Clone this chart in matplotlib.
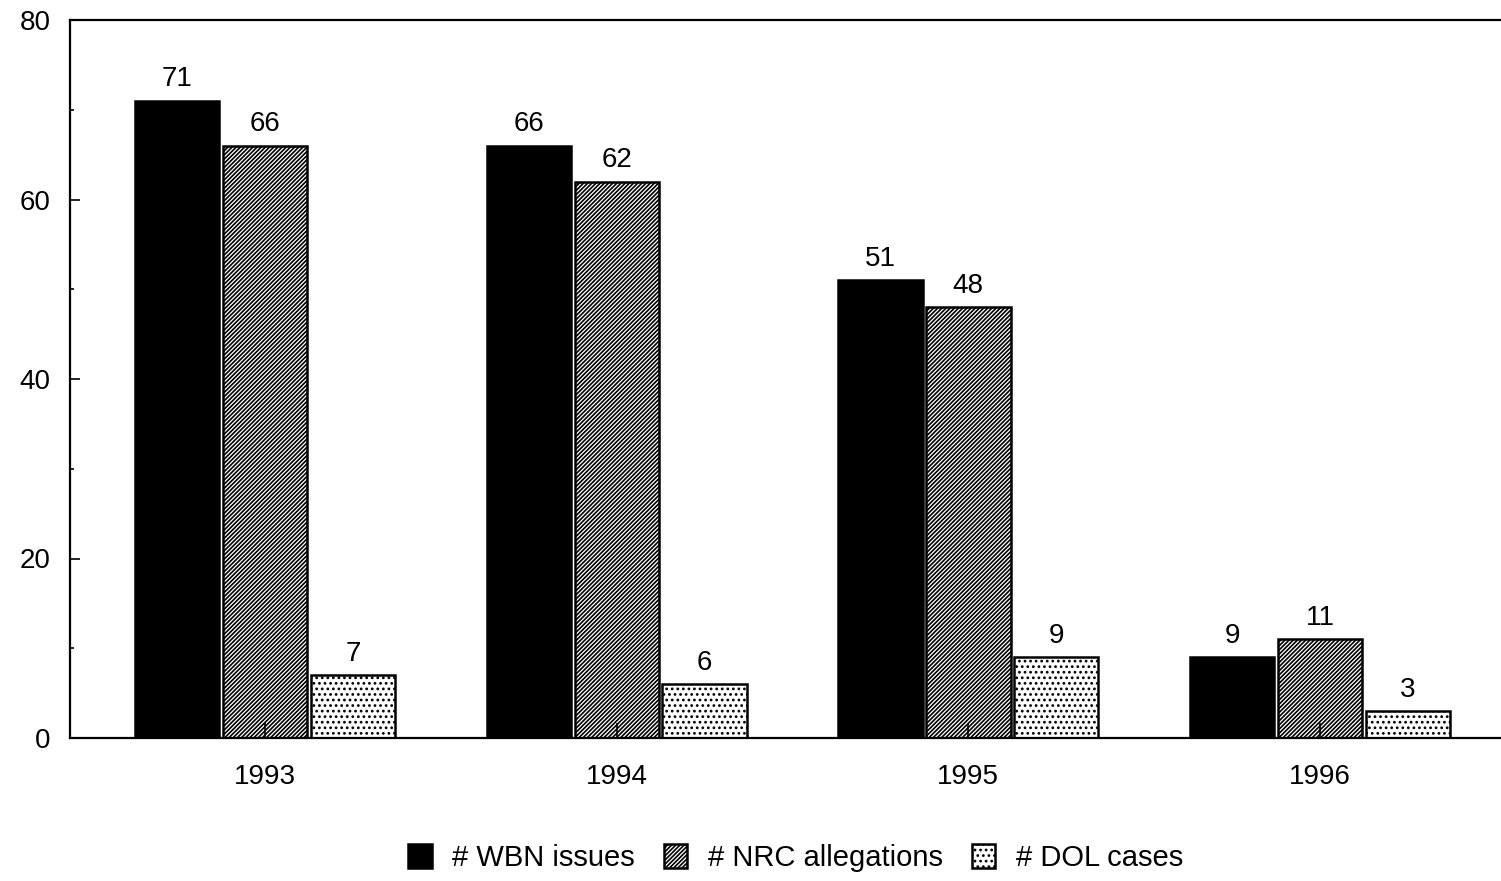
import matplotlib
matplotlib.use("Agg")
import matplotlib.pyplot as plt
import numpy as np
from matplotlib.ticker import MultipleLocator

plt.rcParams['font.family'] = ['Liberation Sans', 'DejaVu Sans']
plt.rcParams['hatch.linewidth'] = 1.2

years = ["1993", "1994", "1995", "1996"]
wbn_issues = [71, 66, 51, 9]
nrc_allegations = [66, 62, 48, 11]
dol_cases = [7, 6, 9, 3]
series_names = ["# WBN issues", "# NRC allegations", "# DOL cases"]
series_values = [wbn_issues, nrc_allegations, dol_cases]
y_ticks = [0, 20, 40, 60, 80]

fig = plt.figure(figsize=(15.01, 8.81), dpi=100)
ax = fig.add_axes([70/1501, 1 - 738/881, 1 - 70/1501, (738 - 20)/881])

x = np.arange(len(years))
width = 0.24
offsets = [-0.25, 0.0, 0.25]
styles = [
    dict(facecolor='black', edgecolor='black', hatch=None),
    dict(facecolor='white', edgecolor='black', hatch='////////'),
    dict(facecolor='white', edgecolor='black', hatch='...'),
]

handles = []
for vals, off, st, name in zip(series_values, offsets, styles, series_names):
    bars = ax.bar(x + off, vals, width, label=name, linewidth=1.8, **st)
    handles.append(bars)
    for b, v in zip(bars, vals):
        ax.annotate(str(v), (b.get_x() + b.get_width() / 2, v),
                    xytext=(0, 6), textcoords='offset points',
                    ha='center', va='bottom', fontsize=20)

ax.set_xlim(-0.555, 3.515)
ax.set_ylim(0, 80)
ax.set_xticks(x)
ax.set_xticklabels(years)
ax.set_yticks(y_ticks)
ax.yaxis.set_minor_locator(MultipleLocator(10))

ax.tick_params(axis='x', direction='in', length=11, width=1.2, pad=19, labelsize=20)
ax.tick_params(axis='y', which='major', direction='in', length=7, width=1.2, pad=14, labelsize=20)
ax.tick_params(axis='y', which='minor', direction='in', length=3, width=1.2)

ax.spines['right'].set_visible(False)
for s in ['left', 'bottom', 'top']:
    ax.spines[s].set_linewidth(1.6)

fig.legend(handles=handles, labels=series_names, loc='center',
           bbox_to_anchor=(0.53, 1 - 858/881), ncol=3, frameon=False,
           fontsize=21, handlelength=0.8, handleheight=0.9,
           handletextpad=0.7, columnspacing=1.0)

fig.savefig("out.png", dpi=100)
